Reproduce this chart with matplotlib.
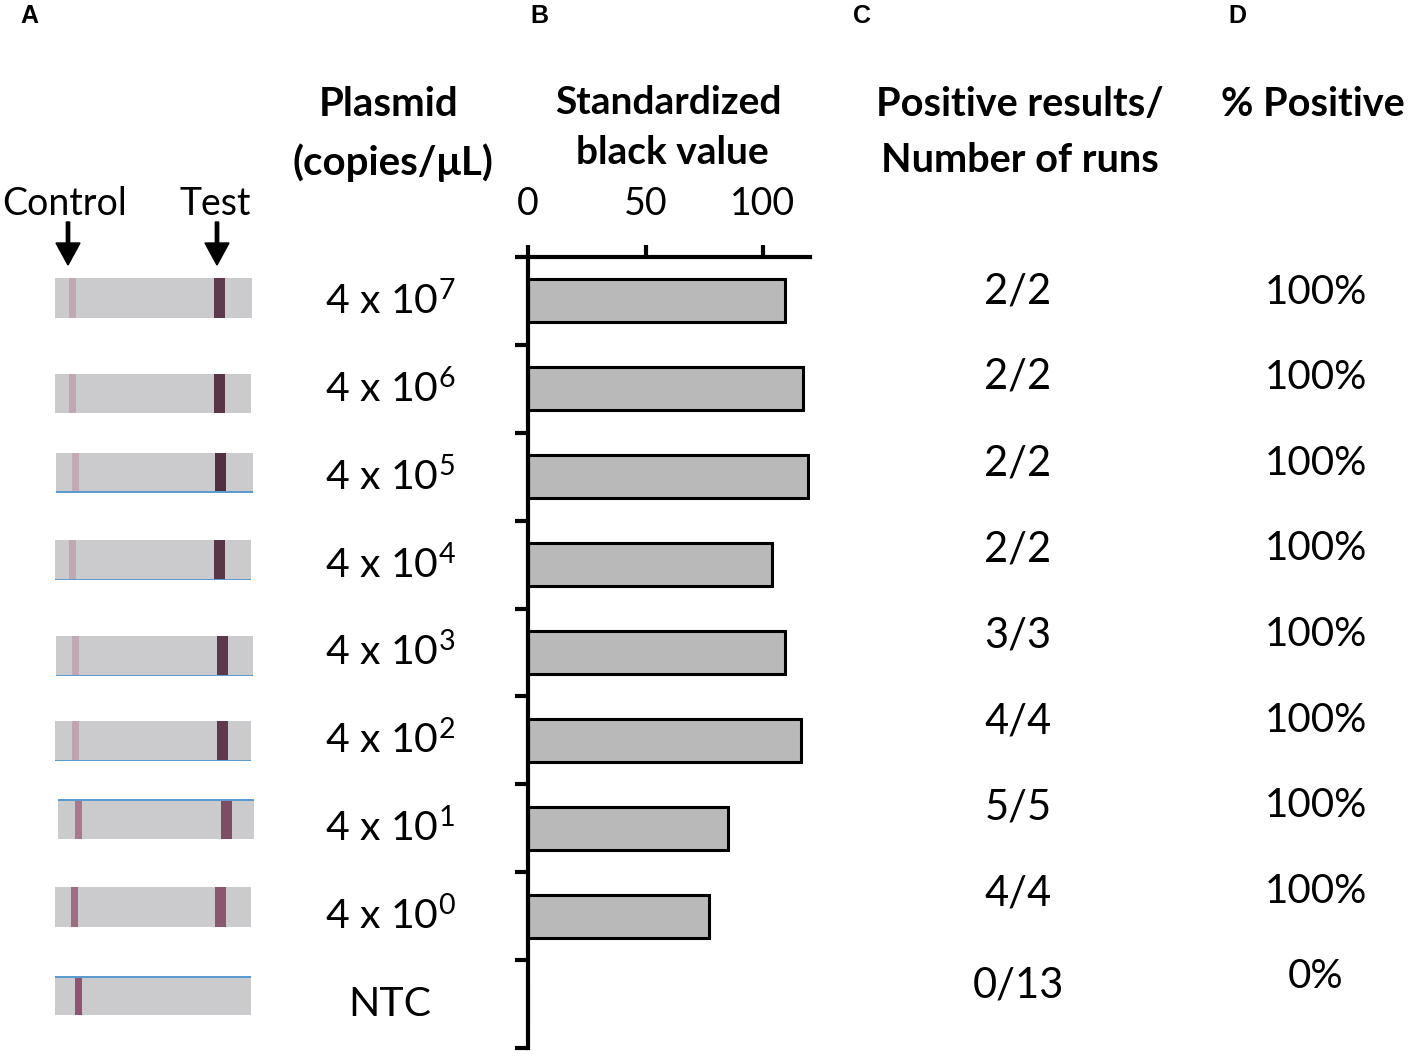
import matplotlib
matplotlib.use("Agg")
import matplotlib.pyplot as plt
from matplotlib.patches import Rectangle, FancyArrow
import matplotlib.transforms as mtransforms

plt.rcParams['font.family'] = ['Lato', 'DejaVu Sans']
plt.rcParams['mathtext.fontset'] = 'custom'
plt.rcParams['mathtext.rm'] = 'Lato'
plt.rcParams['mathtext.it'] = 'Lato'
plt.rcParams['mathtext.bf'] = 'Lato:bold'

# ---------------- data ----------------
plasmid_labels = ["4 x 10$^{7}$", "4 x 10$^{6}$", "4 x 10$^{5}$", "4 x 10$^{4}$",
                  "4 x 10$^{3}$", "4 x 10$^{2}$", "4 x 10$^{1}$", "4 x 10$^{0}$", "NTC"]
black_values = [109.2, 117.2, 119.3, 104.0, 109.4, 116.3, 84.9, 77.1, 0.0]
positive_runs = ["2/2", "2/2", "2/2", "2/2", "3/3", "4/4", "5/5", "4/4", "0/13"]
percent_positive = ["100%", "100%", "100%", "100%", "100%", "100%", "100%", "100%", "0%"]
x_ticks = [0, 50, 100]
# strip appearance (photo of lateral flow strips): line colours per strip
control_colors = ["#c1a9b4", "#c0a7b3", "#c2aab5", "#c1a9b4", "#c0a8b4", "#bea3b0",
                  "#a9788f", "#a06a83", "#8f5472"]
test_colors = ["#5e3a4c", "#583547", "#523043", "#583548", "#5c384c", "#5f394d",
               "#7c4d63", "#8a5670", None]

W, H = 1414, 1056
fig = plt.figure(figsize=(W / 100, H / 100), dpi=100)

def fx(px):
    return px / W

def fy(py):
    return 1 - py / H

# ---------------- bar chart (B) ----------------
ax_left, ax_right, ax_top, ax_bot = 528, 810, 257, 1048
ax = fig.add_axes([fx(ax_left), fy(ax_bot), fx(ax_right - ax_left), (ax_bot - ax_top) / H])
ypos = list(range(len(black_values)))
ax.barh(ypos, black_values, height=0.49, color="#b9b9b9", edgecolor="black", linewidth=2.2)
ax.set_xlim(0, 120)
ax.set_ylim(len(black_values) - 0.5, -0.5)
for s in ["right", "bottom"]:
    ax.spines[s].set_visible(False)
for s in ["top", "left"]:
    ax.spines[s].set_linewidth(3)
ax.xaxis.tick_top()
ax.set_xticks(x_ticks)
ax.set_xticklabels([str(t) for t in x_ticks])
ax.tick_params(axis="x", direction="out", length=9, width=3, pad=16, labelsize=27)
ax.set_yticks([i - 0.5 for i in range(len(black_values) + 1)])
ax.set_yticklabels([])
ax.tick_params(axis="y", direction="out", length=9.5, width=3)

# plasmid labels aligned with bar rows
trans = mtransforms.blended_transform_factory(fig.transFigure, ax.transData)
for i, lab in enumerate(plasmid_labels):
    ax.text(fx(390), i, lab, transform=trans, ha="center", va="center", fontsize=29.5,
            clip_on=False)

# ---------------- headers ----------------
fig.text(fx(389), fy(105), "Plasmid", ha="center", va="center", fontsize=29, fontweight="bold")
fig.text(fx(393), fy(163), "(copies/\u03bcL)", ha="center", va="center", fontsize=29, fontweight="bold")
fig.text(fx(668), fy(103), "Standardized", ha="center", va="center", fontsize=28, fontweight="bold")
fig.text(fx(672), fy(153), "black value", ha="center", va="center", fontsize=28, fontweight="bold")
fig.text(fx(1020), fy(104), "Positive results/", ha="center", va="center", fontsize=28.5, fontweight="bold")
fig.text(fx(1020), fy(160), "Number of runs", ha="center", va="center", fontsize=28.5, fontweight="bold")
fig.text(fx(1313), fy(104), "% Positive", ha="center", va="center", fontsize=28.5, fontweight="bold")

# panel letters
for letter, px in zip(["A", "B", "C", "D"], [29, 539, 862, 1237]):
    fig.text(fx(px), fy(16), letter, ha="center", va="center", fontsize=18,
             fontweight="bold", family="Liberation Sans")

# ---------------- columns C and D ----------------
for i, (c, d) in enumerate(zip(positive_runs, percent_positive)):
    yc = 291 + 86 * i + (6 if i == len(positive_runs) - 1 else 0)
    yd = 292 + 85.6 * i
    fig.text(fx(1018), fy(yc), c, ha="center", va="center", fontsize=30)
    fig.text(fx(1316), fy(yd), d, ha="center", va="center", fontsize=29)

# ---------------- strips (A) ----------------
strip_boxes = [(55, 278, 252, 318), (55, 374, 251, 413), (56, 453, 253, 493),
               (55, 540, 251, 580), (56, 636, 253, 676), (55, 721, 251, 761),
               (58, 799, 254, 839), (55, 887, 251, 927), (55, 976, 251, 1015)]
control_x = [72, 72, 75, 72, 75, 75, 78, 74.5, 78]
test_x = [219, 219, 221, 219.5, 222, 222, 226, 220, None]
blue_edge = [None, None, "bottom", "bottom", "bottom", "bottom", "top", None, "top"]

for i, (x0, y0, x1, y1) in enumerate(strip_boxes):
    fig.patches.append(Rectangle((fx(x0), fy(y1)), fx(x1 - x0), (y1 - y0) / H,
                                 transform=fig.transFigure, facecolor="#cbcbcd",
                                 edgecolor="none"))
    fig.patches.append(Rectangle((fx(control_x[i] - 3.5), fy(y1)), fx(7), (y1 - y0) / H,
                                 transform=fig.transFigure, facecolor=control_colors[i],
                                 edgecolor="none"))
    if test_colors[i] is not None:
        fig.patches.append(Rectangle((fx(test_x[i] - 5.5), fy(y1)), fx(11), (y1 - y0) / H,
                                     transform=fig.transFigure, facecolor=test_colors[i],
                                     edgecolor="none"))
    if blue_edge[i] is not None:
        yy = y1 - 1.5 if blue_edge[i] == "bottom" else y0
        fig.patches.append(Rectangle((fx(x0), fy(yy + 1.5)), fx(x1 - x0), 1.5 / H,
                                     transform=fig.transFigure, facecolor="#5b9bd0",
                                     edgecolor="none"))

# labels and arrows
fig.text(fx(65), fy(204), "Control", ha="center", va="center", fontsize=27)
fig.text(fx(215), fy(204), "Test", ha="center", va="center", fontsize=27)
for axp in [68, 217]:
    fig.patches.append(FancyArrow(fx(axp), fy(222), 0, -(265 - 222) / H,
                                  width=2.5 / H, head_width=fx(24), head_length=22 / H,
                                  length_includes_head=True, transform=fig.transFigure,
                                  color="black"))

fig.savefig("out.png", dpi=100)
